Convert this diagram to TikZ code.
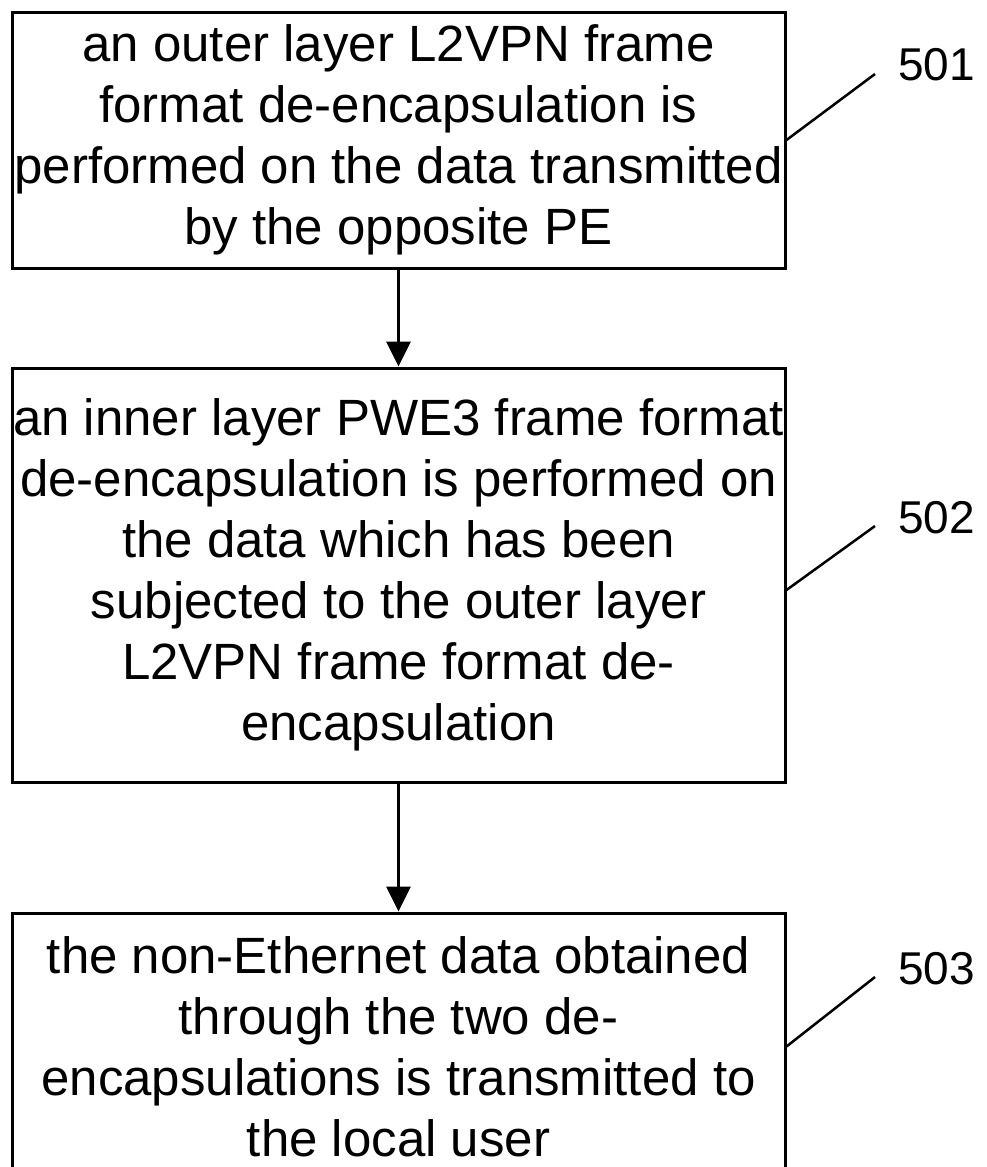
\documentclass[tikz,border=0pt]{standalone}
\usepackage{fontspec}
\setmainfont{Liberation Sans}
\usepackage{tikz}
\usetikzlibrary{arrows.meta,positioning}

\begin{document}
\begin{tikzpicture}[x=1pt, y=-1pt, ->, >={Triangle[length=25pt,width=24pt]},
    stepbox/.style={draw, line width=3pt, minimum width=773pt, inner sep=0pt,
      align=center, font=\fontsize{51}{61}\selectfont},
    refnum/.style={anchor=base west, inner sep=0pt, font=\fontsize{46}{50}\selectfont}]
  \useasboundingbox (0,0) rectangle (986,1167);
  \node[stepbox, minimum height=256pt] (s501) at (398.5, 140) {an outer layer L2VPN frame\\ format de-encapsulation is\\ performed on the data transmitted\\ by the opposite PE};
  \node[stepbox, minimum height=414pt] (s502) at (398.5, 575) {an inner layer PWE3 frame format\\ de-encapsulation is performed on\\ the data which has been\\ subjected to the outer layer\\ L2VPN frame format de-\\ encapsulation};
  \node[stepbox, minimum height=267pt] (s503) at (398.5, 1046.5) {the non-Ethernet data obtained\\ through the two de-\\ encapsulations is transmitted to\\ the local user};
  % reference numbers
  \node[refnum] (n501) at (898, 80) {501};
  \node[refnum] (n502) at (898, 533) {502};
  \node[refnum] (n503) at (898, 984) {503};
  \path[line width=3pt] (s501) edge (s502)
                        (s502) edge (s503);
  \draw[-, line width=2.5pt] (s501.east) -- ([shift={(-23pt,6pt)}]n501.base west);
  \draw[-, line width=2.5pt] ([yshift=-15pt]s502.east) -- ([shift={(-23pt,7pt)}]n502.base west);
  \draw[-, line width=2.5pt] (s503.east) -- ([shift={(-23pt,7pt)}]n503.base west);
\end{tikzpicture}
\end{document}
